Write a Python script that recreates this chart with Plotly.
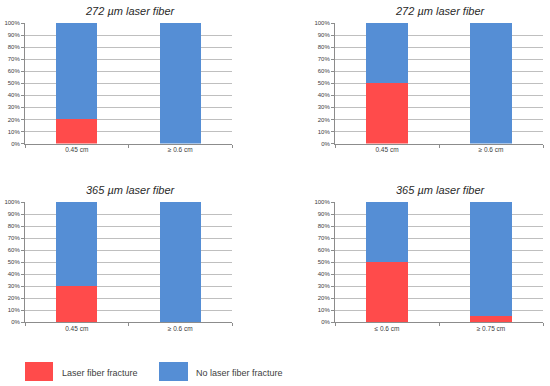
import plotly.graph_objects as go

titles = ["272 µm laser fiber", "272 µm laser fiber", "365 µm laser fiber", "365 µm laser fiber"]
cats_1 = ["0.45 cm", "≥ 0.6 cm"]
cats_2 = ["0.45 cm", "≥ 0.6 cm"]
cats_3 = ["0.45 cm", "≥ 0.6 cm"]
cats_4 = ["≤ 0.6 cm", "≥ 0.75 cm"]
fracture_1 = [20, 0]
fracture_2 = [50, 0]
fracture_3 = [30, 0]
fracture_4 = [50, 5]
no_fracture_1 = [80, 100]
no_fracture_2 = [50, 100]
no_fracture_3 = [70, 100]
no_fracture_4 = [50, 95]
y_ticks = [0, 10, 20, 30, 40, 50, 60, 70, 80, 90, 100]
y_tick_labels = ["0%", "10%", "20%", "30%", "40%", "50%", "60%", "70%", "80%", "90%", "100%"]
series_names = ["Laser fiber fracture", "No laser fiber fracture"]

RED = "#FF4B4B"
BLUE = "#558ED5"
FONT = "Liberation Sans"

fig = go.Figure()

panels = [
    (cats_1, fracture_1, no_fracture_1),
    (cats_2, fracture_2, no_fracture_2),
    (cats_3, fracture_3, no_fracture_3),
    (cats_4, fracture_4, no_fracture_4),
]

W, H = 550, 386
xdoms = [(25, 232), (335, 543)]
ydoms = [(23, 143.5), (202, 322)]

def px_x(a):
    return a / W

def px_y(b):
    return 1 - b / H

for i, (cats, fr, nf) in enumerate(panels):
    n = i + 1
    xa = "x" if n == 1 else f"x{n}"
    ya = "y" if n == 1 else f"y{n}"
    fig.add_trace(go.Bar(x=cats, y=fr, name=series_names[0], marker=dict(color=RED, line=dict(width=0)),
                         xaxis=xa, yaxis=ya, showlegend=False))
    fig.add_trace(go.Bar(x=cats, y=nf, name=series_names[1], marker=dict(color=BLUE, line=dict(width=0)),
                         xaxis=xa, yaxis=ya, showlegend=False))
    xd = xdoms[i % 2]
    yd = ydoms[i // 2]
    xkey = "xaxis" if n == 1 else f"xaxis{n}"
    ykey = "yaxis" if n == 1 else f"yaxis{n}"
    fig.layout[xkey] = dict(domain=[px_x(xd[0]), px_x(xd[1])], anchor=ya, automargin=False,
                            showline=True, linecolor="#8C8C8C", linewidth=1,
                            ticks="outside", tickson="boundaries", ticklen=3, tickcolor="#8C8C8C",
                            tickfont=dict(family=FONT, size=6.5, color="#404040"),
                            showgrid=False, fixedrange=True)
    fig.layout[ykey] = dict(domain=[px_y(yd[1]), px_y(yd[0])], anchor=xa, automargin=False,
                            range=[0, 100], tickmode="array", tickvals=y_ticks, ticktext=y_tick_labels,
                            showline=True, linecolor="#8C8C8C", linewidth=1,
                            ticks="outside", ticklen=3, tickcolor="#8C8C8C",
                            showgrid=True, gridcolor="#BFBFBF", gridwidth=1,
                            zeroline=False,
                            tickfont=dict(family=FONT, size=6, color="#404040"),
                            fixedrange=True)
    fig.add_annotation(text=f"<i>{titles[i]}</i>", xref="paper", yref="paper",
                       x=px_x((xd[0] + xd[1]) / 2 + 2), y=px_y(yd[0] - 12),
                       showarrow=False, xanchor="center", yanchor="middle",
                       font=dict(family=FONT, size=11, color="#2a2a2a"))

legend_items = [(25, 53, 60, RED, series_names[0]), (159, 188, 194, BLUE, series_names[1])]
for x0, x1, tx, col, label in legend_items:
    fig.add_shape(type="rect", xref="paper", yref="paper",
                  x0=px_x(x0), x1=px_x(x1), y0=px_y(381), y1=px_y(362),
                  fillcolor=col, line=dict(width=0))
    fig.add_annotation(text=label, xref="paper", yref="paper", x=px_x(tx), y=px_y(373),
                       showarrow=False, xanchor="left", yanchor="middle",
                       font=dict(family=FONT, size=9, color="#404040"))

fig.update_layout(barmode="stack", bargap=0.6, width=W, height=H,
                  margin=dict(l=0, r=0, t=0, b=0),
                  paper_bgcolor="white", plot_bgcolor="white", showlegend=False)

fig.write_html("out.html", config={"displayModeBar": False, "staticPlot": True},
               post_script="document.body.style.margin='0px';document.body.style.overflow='hidden';")
